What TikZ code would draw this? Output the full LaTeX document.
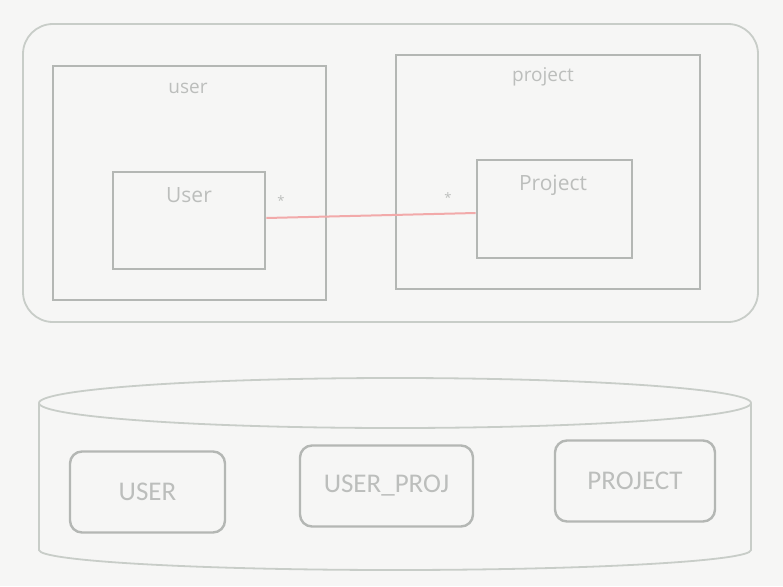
\documentclass[tikz,border=0pt]{standalone}
\usepackage{fontspec}
\setmainfont{Open Sans}
\newfontfamily\dbfont{Carlito}
\definecolor{bg}{RGB}{246,246,245}
\definecolor{boxline}{RGB}{180,183,180}
\definecolor{lightline}{RGB}{200,205,200}
\definecolor{txt}{RGB}{188,190,188}
\definecolor{assoc}{RGB}{242,170,170}
\begin{document}
\begin{tikzpicture}[x=1pt,y=-1pt,
  outerbox/.style={draw=lightline, line width=1.8pt, rounded corners=30pt, minimum width=735pt, minimum height=298pt, inner sep=0pt},
  pkg/.style={draw=boxline, line width=2.6pt, minimum height=234pt, inner sep=0pt},
  cls/.style={draw=boxline, line width=2.6pt, inner sep=0pt},
  lbl/.style={text=txt, font=\fontsize{19}{22}\selectfont, inner sep=0pt},
  clbl/.style={text=txt, font=\fontsize{21}{24}\selectfont, inner sep=0pt},
  mult/.style={text=txt, font=\fontsize{13}{14}\selectfont, inner sep=0pt},
  tbl/.style={draw=boxline, line width=2.4pt, rounded corners=12pt, minimum height=81pt, inner sep=0pt, text=txt, font=\dbfont\fontsize{27}{30}\selectfont}
]
\useasboundingbox[fill=bg] (0,0) rectangle (783,586);
% container
\node[outerbox] (outer) at (390.5,173) {};
\node[pkg, minimum width=273pt] (userpkg) at (189.5,183) {};
\node[lbl] (userlbl) at (188,88) {user};
\node[cls, minimum width=152pt, minimum height=97pt] (User) at (189,220.5) {};
\node[clbl] (Userlbl) at (189,195) {User};
\node[pkg, minimum width=304pt] (projpkg) at (548,172) {};
\node[lbl] (projlbl) at (543,77) {project};
\node[cls, minimum width=155pt, minimum height=98pt] (Project) at (554.5,209) {};
\node[clbl] (Projectlbl) at (553,185) {Project};
\node[mult] (m1) at (281,201) {*};
\node[mult] (m2) at (448,198) {*};
\draw[assoc, line width=2pt] ([yshift=2.5pt]User.east) -- ([yshift=-4pt]Project.west);
% database cylinder
\draw[lightline, line width=1.8pt] (395,403) ellipse [x radius=356pt, y radius=25pt];
\draw[lightline, line width=1.8pt] (39,403) -- (39,550) arc[start angle=180, end angle=360, x radius=356pt, y radius=20pt] -- (751,403);
\node[tbl, minimum width=155pt] (USER) at (147.5,492) {USER};
\node[tbl, minimum width=173pt] (USERPROJ) at (386.5,486) {USER\_PROJ};
\node[tbl, minimum width=160pt] (PROJECT) at (635,481) {PROJECT};
\end{tikzpicture}
\end{document}
